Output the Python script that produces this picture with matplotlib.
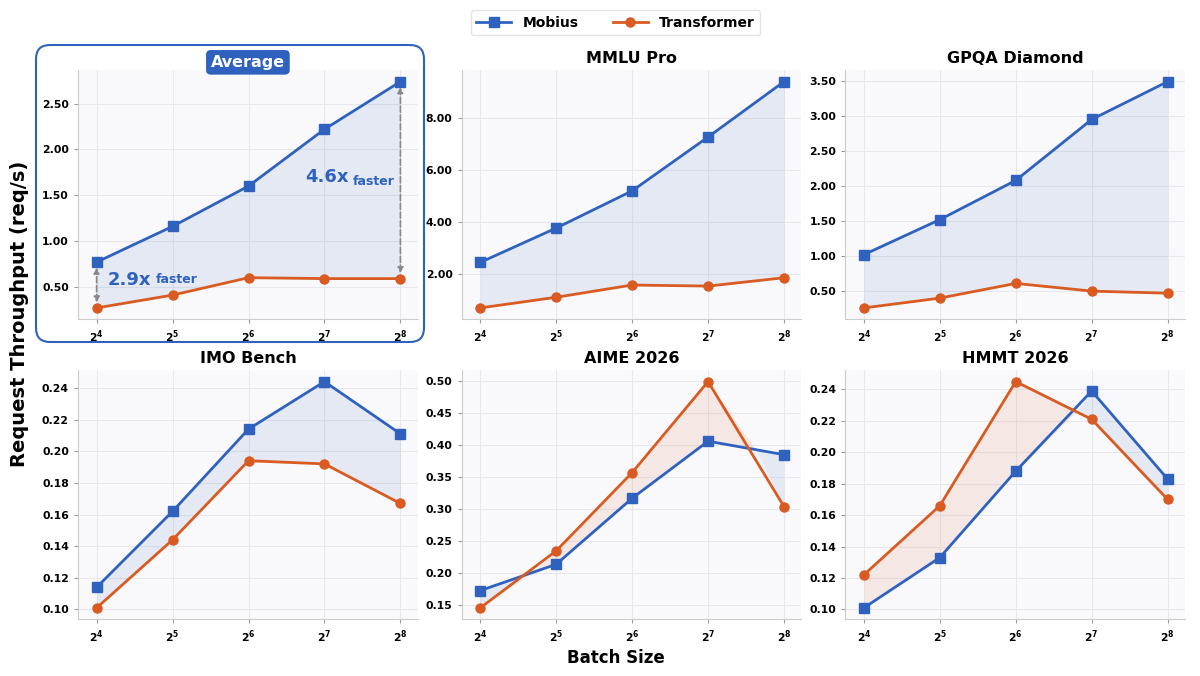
import numpy as np
import matplotlib.pyplot as plt
from matplotlib.patches import FancyBboxPatch
from matplotlib.ticker import FormatStrFormatter, MultipleLocator, FixedLocator

# batch sizes
batch = [16, 32, 64, 128, 256]
batch_labels = [r'$\mathbf{2^{4}}$', r'$\mathbf{2^{5}}$', r'$\mathbf{2^{6}}$',
                r'$\mathbf{2^{7}}$', r'$\mathbf{2^{8}}$']

titles = ['Average', 'MMLU Pro', 'GPQA Diamond', 'IMO Bench', 'AIME 2026', 'HMMT 2026']

# throughput (req/s)
avg_mobius = [0.77, 1.16, 1.60, 2.22, 2.74]
avg_transformer = [0.27, 0.41, 0.60, 0.59, 0.59]
mmlu_mobius = [2.45, 3.77, 5.20, 7.27, 9.40]
mmlu_transformer = [0.70, 1.11, 1.58, 1.54, 1.86]
gpqa_mobius = [1.02, 1.52, 2.08, 2.95, 3.49]
gpqa_transformer = [0.26, 0.40, 0.61, 0.50, 0.47]
imo_mobius = [0.114, 0.162, 0.214, 0.244, 0.211]
imo_transformer = [0.101, 0.144, 0.194, 0.192, 0.167]
aime_mobius = [0.173, 0.214, 0.317, 0.406, 0.385]
aime_transformer = [0.146, 0.235, 0.357, 0.499, 0.304]
hmmt_mobius = [0.101, 0.133, 0.188, 0.239, 0.183]
hmmt_transformer = [0.122, 0.166, 0.245, 0.221, 0.170]

mobius_all = [avg_mobius, mmlu_mobius, gpqa_mobius, imo_mobius, aime_mobius, hmmt_mobius]
transformer_all = [avg_transformer, mmlu_transformer, gpqa_transformer,
                   imo_transformer, aime_transformer, hmmt_transformer]
ytick_step = [0.5, 2.0, 0.5, 0.02, 0.05, 0.02]

speedup_labels = ['2.9x', '4.6x']

blue = '#2F62BF'
orange = '#D95B22'

plt.rcParams['font.family'] = 'DejaVu Sans'
plt.rcParams['font.weight'] = 'bold'

fig, axes = plt.subplots(2, 3, figsize=(12, 6.76), dpi=100)
fig.subplots_adjust(left=0.065, right=0.9875, bottom=0.084, top=0.896,
                    wspace=0.129, hspace=0.205)

for i, ax in enumerate(axes.flat):
    m = np.array(mobius_all[i])
    t = np.array(transformer_all[i])
    ax.set_facecolor('#f9f9fb')
    ax.fill_between(batch, m, t, where=m >= t, interpolate=True,
                    color=blue, alpha=0.10, lw=0)
    ax.fill_between(batch, m, t, where=m <= t, interpolate=True,
                    color=orange, alpha=0.10, lw=0)
    ax.plot(batch, m, color=blue, marker='s', ms=6.5, lw=2, label='Mobius', zorder=3)
    ax.plot(batch, t, color=orange, marker='o', ms=6.5, lw=2, label='Transformer', zorder=3)
    ax.set_xscale('log', base=2)
    ax.xaxis.set_major_locator(FixedLocator(batch))
    ax.xaxis.set_minor_locator(FixedLocator([]))
    ax.set_xticklabels(batch_labels)
    ax.set_xlim(13.5, 300)
    ax.yaxis.set_major_locator(MultipleLocator(ytick_step[i]))
    ax.yaxis.set_major_formatter(FormatStrFormatter('%.2f'))
    ax.tick_params(labelsize=7.8, length=3, color='#999999')
    for lab in ax.get_yticklabels():
        lab.set_fontweight('bold')
    ax.grid(True, color='#e8e8ec', lw=0.8)
    ax.set_axisbelow(True)
    for s in ['top', 'right']:
        ax.spines[s].set_visible(False)
    for s in ['left', 'bottom']:
        ax.spines[s].set_color('#cccccc')
    if i == 0:
        ax.text(0.5, 1.032, titles[i], transform=ax.transAxes, ha='center', va='center',
                fontsize=11.5, fontweight='bold', color='white', zorder=5,
                bbox=dict(boxstyle='round,pad=0.3', fc=blue, ec='none'))
    else:
        ax.set_title(titles[i], fontsize=11.5, fontweight='bold', pad=5)

# speedup annotations on the Average panel
ax = axes[0, 0]
for j in [0, 4]:
    ax.annotate('', xy=(batch[j], avg_mobius[j] - 0.03), xytext=(batch[j], avg_transformer[j] + 0.03),
                arrowprops=dict(arrowstyle='<|-|>', color='#888888', lw=1.2, ls='--',
                                mutation_scale=8))
t1 = ax.annotate(speedup_labels[0], xy=(batch[0], 0.58), xytext=(8, 0), textcoords='offset points',
                 color=blue, fontsize=13, fontweight='bold', va='center', ha='left')
ax.annotate('faster', xy=(1, 0.15), xycoords=t1, xytext=(3, 0), textcoords='offset points',
            color=blue, fontsize=9, fontweight='bold', va='bottom', ha='left')
t2 = ax.annotate('faster', xy=(batch[4], 1.67), xytext=(-4, -1), textcoords='offset points',
                 color=blue, fontsize=9, fontweight='bold', va='center', ha='right')
ax.annotate(speedup_labels[1], xy=(0, 0.15), xycoords=t2, xytext=(-3, 0), textcoords='offset points',
            color=blue, fontsize=13, fontweight='bold', va='bottom', ha='right')

# highlight box around the Average panel (inches, so corners stay round)
box = FancyBboxPatch((0.36, 3.34), 3.88, 2.97,
                     boxstyle='round,pad=0,rounding_size=0.14',
                     transform=fig.dpi_scale_trans, fc='none', ec=blue, lw=1.5)
fig.patches.append(box)

handles, labels = axes[0, 1].get_legend_handles_labels()
fig.legend(handles, labels, loc='upper center', ncol=2, bbox_to_anchor=(0.513, 0.995),
           prop={'weight': 'bold', 'size': 10}, frameon=True, edgecolor='#dddddd',
           handlelength=2.5, columnspacing=2.5)

fig.text(0.513, 0.027, 'Batch Size', ha='center', va='center', fontsize=12, fontweight='bold')
fig.text(0.016, 0.535, 'Request Throughput (req/s)', rotation=90, va='center', ha='center',
         fontsize=14, fontweight='bold')

plt.savefig('out.png', dpi=100)
